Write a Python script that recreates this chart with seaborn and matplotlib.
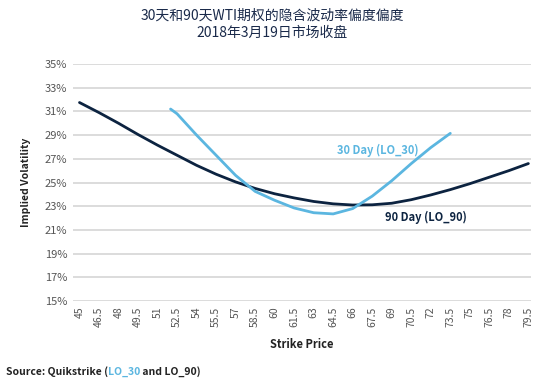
import matplotlib
matplotlib.use('Agg')
import matplotlib.pyplot as plt
import numpy as np
import pandas as pd
import seaborn as sns

# strike prices (tick labels every 1.5)
strikes = [45, 46.5, 48, 49.5, 51, 52.5, 54, 55.5, 57, 58.5, 60, 61.5,
           63, 64.5, 66, 67.5, 69, 70.5, 72, 73.5, 75, 76.5, 78, 79.5]
tick_labels = ['45', '46.5', '48', '49.5', '51', '52.5', '54', '55.5', '57', '58.5', '60', '61.5',
               '63', '64.5', '66', '67.5', '69', '70.5', '72', '73.5', '75', '76.5', '78', '79.5']

# 90 day implied vol (%)
strike_90 = strikes
vol_90 = [31.75, 30.9, 30.0, 29.05, 28.15, 27.3, 26.45, 25.7, 25.05, 24.5, 24.05, 23.7,
          23.4, 23.2, 23.1, 23.12, 23.25, 23.55, 23.95, 24.4, 24.9, 25.45, 26.0, 26.6]

# 30 day implied vol (%)
strike_30 = [52, 52.5, 54, 55.5, 57, 58.5, 60, 61.5, 63, 64.5, 66, 67.5, 69, 70.5, 72, 73.5]
vol_30 = [31.2, 30.8, 29.0, 27.3, 25.6, 24.25, 23.5, 22.85, 22.45, 22.35, 22.8, 23.85,
          25.15, 26.6, 27.95, 29.15]

navy = '#0c2340'
light = '#5bb6e0'
grey_txt = '#555555'

sns.set_style('white')
plt.rcParams['font.family'] = ['Noto Sans CJK SC', 'DejaVu Sans']

fig = plt.figure(figsize=(5.5, 3.87), dpi=100)
ax = fig.add_axes([0.1327, 0.2222, 0.8327, 0.6124])

df90 = pd.DataFrame({'strike': strike_90, 'vol': vol_90})
df30 = pd.DataFrame({'strike': strike_30, 'vol': vol_30})
sns.lineplot(data=df90, x='strike', y='vol', ax=ax, color=navy, linewidth=2)
sns.lineplot(data=df30, x='strike', y='vol', ax=ax, color=light, linewidth=2)

ax.set_xlim(44.5, 79.7)
ax.set_ylim(15, 35)
yt = np.arange(15, 36, 2)
ax.set_yticks(yt)
ax.set_yticklabels([f'{v}%' for v in yt], color=grey_txt, fontsize=8)
ax.set_xticks(strikes)
ax.set_xticklabels(tick_labels, rotation=90, color=grey_txt, fontsize=7.5)
ax.tick_params(length=0, pad=4)
ax.yaxis.grid(True, color='#d9d9d9', linewidth=1.3)
ax.xaxis.grid(False)
for s in ax.spines.values():
    s.set_visible(False)
ax.set_axisbelow(True)

ax.set_xlabel('Strike Price', fontsize=8, fontweight='bold', color='#222222', labelpad=8)
ax.set_ylabel('Implied Volatility', fontsize=7.5, fontweight='bold', color='#222222', labelpad=10)

ax.text(67.95, 27.7, '30 Day (LO_30)', color=light, fontsize=8, fontweight='bold',
        ha='center', va='center')
ax.text(71.6, 22.05, '90 Day (LO_90)', color=navy, fontsize=8, fontweight='bold',
        ha='center', va='center')

fig.text(0.495, 0.96, '30天和90天WTI期权的隐含波动率偏度偏度', ha='center', va='center',
         fontsize=10, color='#1a2a4a')
fig.text(0.495, 0.915, '2018年3月19日市场收盘', ha='center', va='center',
         fontsize=10, color='#1a2a4a')

# source line with coloured part
renderer = fig.canvas.get_renderer()
x0 = 0.01
parts = [('Source: Quikstrike (', '#222222'), ('LO_30', light), (' and LO_90)', '#222222')]
for txt, col in parts:
    t = fig.text(x0, 0.04, txt, fontsize=7.5, fontweight='bold', color=col, va='center', ha='left')
    bb = t.get_window_extent(renderer=renderer)
    x0 += bb.width / fig.bbox.width

fig.savefig('out.png', dpi=100)
